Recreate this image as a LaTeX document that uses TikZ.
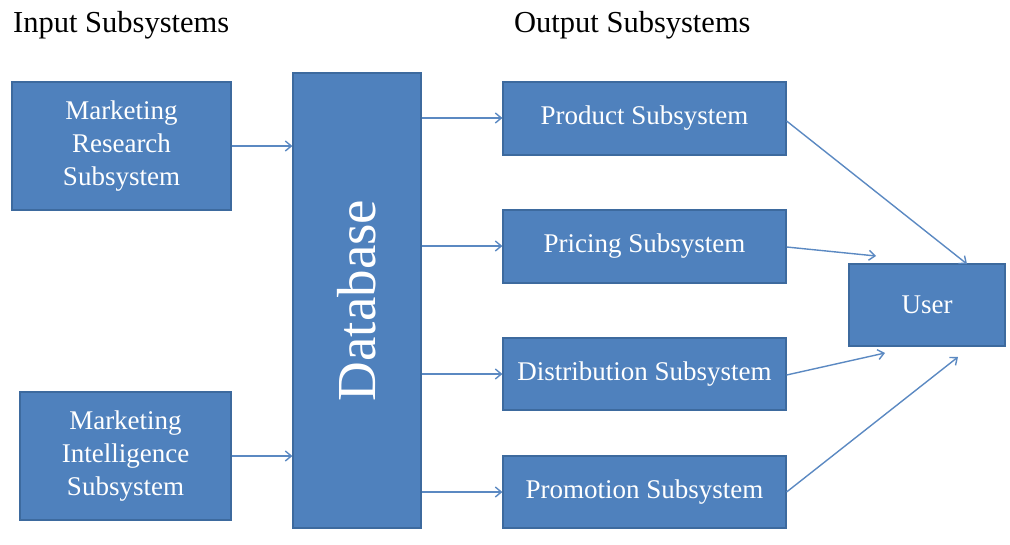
\documentclass[tikz,border=0pt]{standalone}
\usepackage{fontspec}
\setmainfont{Liberation Serif}
\usetikzlibrary{arrows.meta}
\definecolor{boxfill}{HTML}{4F81BD}
\definecolor{boxline}{HTML}{3D6A9E}
\definecolor{arrowcol}{HTML}{5B89C2}
\tikzset{
  blk/.style={draw=boxline, line width=1.2pt, fill=boxfill, text=white,
    inner sep=0pt, align=center, font=\fontsize{27}{33}\selectfont},
  conn/.style={draw=arrowcol, line width=1.4pt, -{Straight Barb[length=6pt,width=10pt]}},
  head/.style={font=\fontsize{30.5}{34}\selectfont, text=black, anchor=west, inner sep=0pt}
}
\begin{document}
\begin{tikzpicture}[x=1pt,y=-1pt]
\useasboundingbox (0,0) rectangle (1010,544);
% headings
\node[head] (hin) at (13,25) {Input Subsystems};
\node[head] (hout) at (514,25) {Output Subsystems};
% input side
\node[blk, minimum width=219pt, minimum height=128pt] (mr) at (121.5,146) {Marketing\\Research\\Subsystem};
\node[blk, minimum width=211pt, minimum height=128pt] (mi) at (125.5,456) {Marketing\\Intelligence\\Subsystem};
% central store
\node[blk, minimum width=128pt, minimum height=455pt] (db) at (357,300.5) {};
\node[text=white, rotate=90, font=\fontsize{55}{62}\selectfont, inner sep=0pt] (dbl) at (db.center) {Database};
% output side
\node[blk, minimum width=283pt, minimum height=73pt] (prod) at (644.5,118.5) {Product Subsystem};
\node[blk, minimum width=283pt, minimum height=73pt] (pric) at (644.5,246.5) {Pricing Subsystem};
\node[blk, minimum width=283pt, minimum height=72pt] (dist) at (644.5,374) {Distribution Subsystem};
\node[blk, minimum width=283pt, minimum height=72pt] (prom) at (644.5,492) {Promotion Subsystem};
\node[blk, minimum width=156pt, minimum height=82pt] (user) at (927,305) {User};
% free ends near the user box
\coordinate (u1) at (967,264);
\coordinate (u2) at (876,256);
\coordinate (u3) at (885,353);
\coordinate (u4) at (958,357);
% connectors
\draw[conn] (mr.east |- 0,146) -- (db.west |- 0,146);
\draw[conn] (mi.east |- 0,456) -- (db.west |- 0,456);
\draw[conn] (db.east |- 0,118) -- (prod.west |- 0,118);
\draw[conn] (db.east |- 0,246) -- (pric.west |- 0,246);
\draw[conn] (db.east |- 0,374) -- (dist.west |- 0,374);
\draw[conn] (db.east |- 0,492) -- (prom.west |- 0,492);
\draw[conn] (prod.east |- 0,121) -- (u1);
\draw[conn] (pric.east |- 0,247) -- (u2);
\draw[conn] (dist.east |- 0,375) -- (u3);
\draw[conn] (prom.east |- 0,492) -- (u4);
\end{tikzpicture}
\end{document}
